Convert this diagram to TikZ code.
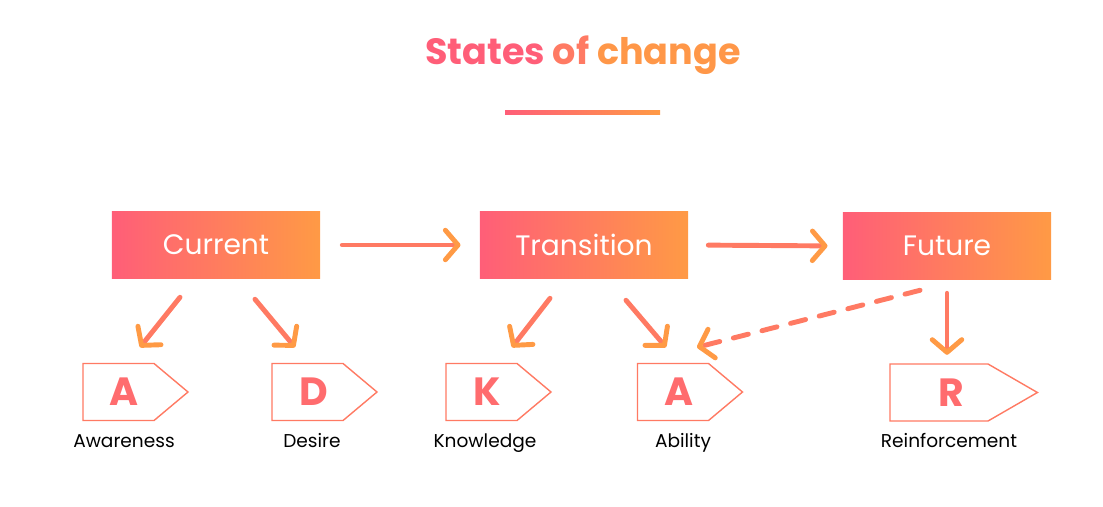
\documentclass[tikz,border=0pt]{standalone}
\usepackage{fontspec}
\setmainfont{Poppins}
\usepackage{xcolor}
\usepackage{tikz}
\usetikzlibrary{arrows.meta,positioning,shapes.symbols,calc}

\definecolor{rosered}{HTML}{FF5E78}
\definecolor{sunorange}{HTML}{FF9A45}
\definecolor{coral}{HTML}{FF7A63}
\definecolor{tagpink}{HTML}{FF6C6E}

\begin{document}
\begin{tikzpicture}[x=0.025cm, y=-0.025cm,
  stage/.style={minimum width=5.2cm, minimum height=1.65cm, inner sep=0pt,
    left color=rosered, right color=sunorange, text=white,
    font=\fontsize{20}{24}\selectfont},
  tag/.style={signal, signal to=east, signal pointer angle=80, draw=coral,
    line width=1pt, text width=1.775cm, align=center, minimum height=1.425cm,
    inner xsep=0pt, inner ysep=0pt, text=tagpink,
    font=\fontsize{28}{30}\selectfont\bfseries,
    execute at begin node={\hspace*{#1}}},
  tag/.default=8.5pt,
  bigtag/.style={tag=17pt, text width=2.45cm, signal pointer angle=60},
  caption/.style={anchor=base, font=\fontsize{13.2}{15}\selectfont, text=black},
  arr/.style={-{Straight Barb[round, length=9pt, width=21pt, color=sunorange]},
    line width=3.5pt, line cap=round, coral},
  dasharr/.style={arr, dash pattern=on 11pt off 10pt}]
  \useasboundingbox (0,0) rectangle (1103,506);

  % title
  \node (title) at (583,55) {\fontsize{26}{30}\selectfont\bfseries
    \textcolor{rosered}{States} \textcolor{coral}{of} \textcolor{sunorange!90!coral}{change}};
  \shade[left color=rosered, right color=sunorange] (505,110) rectangle (660,114);

  % stages
  \node[stage] (current)    at (216,245) {Current};
  \node[stage] (transition) at (584,245) {Transition};
  \node[stage] (future)     at (947,246) {Future};

  \draw[arr, shorten <=0.55cm, shorten >=0.48cm] (current.east) -- (transition.west);
  \draw[arr, shorten <=0.5cm, shorten >=0.38cm] (transition.east) -- (future.west);

  % ADKAR tags
  \node[tag] (tagA1) at (118.5,392) {A};
  \node[tag] (tagD)  at (307.5,392) {D};
  \node[tag] (tagK)  at (481.5,392) {K};
  \node[tag] (tagA2) at (673,392)   {A};
  \node[bigtag] (tagR) at (939,392.5) {R};

  \node[caption] (awareness)     at (124,447) {Awareness};
  \node[caption] (desire)        at (312,447) {Desire};
  \node[caption] (knowledge)     at (485,447) {Knowledge};
  \node[caption] (ability)       at (683,447) {Ability};
  \node[caption] (reinforcement) at (949,447) {Reinforcement};

  \draw[arr] ($(current.south)+(-36,19)$) -- ($(tagA1.north)+(21.5,-15.5)$);
  \draw[arr] ($(current.south)+(39,21)$) -- ($(tagD.north)+(-12.5,-15.5)$);
  \draw[arr] ($(transition.south)+(-34,20)$) -- ($(tagK.north)+(30.5,-15.5)$);
  \draw[arr] ($(transition.south)+(42,22)$) -- ($(tagA2.north)+(-7,-15.5)$);
  \draw[dasharr] ($(future.south)+(-27,11)$) -- ($(tagA2.north)+(24,-15.5)$);
  \draw[arr] ($(future.south)+(0,14)$) -- ($(tagR.north)+(8,-8.5)$);
\end{tikzpicture}
\end{document}
